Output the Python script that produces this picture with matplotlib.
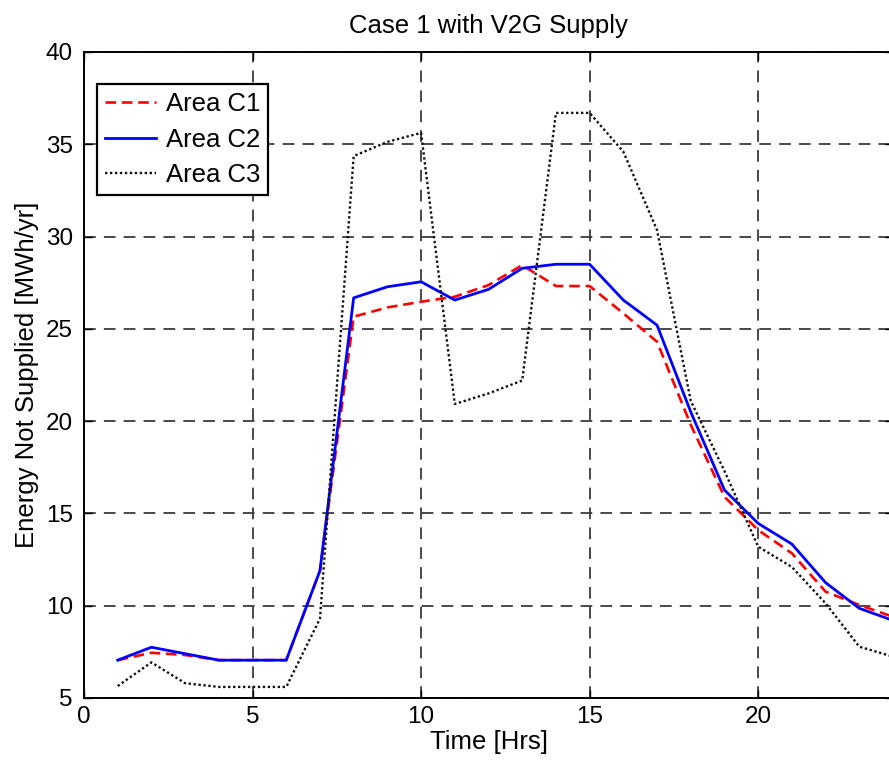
import matplotlib
matplotlib.use("Agg")
import matplotlib.pyplot as plt

plt.rcParams['font.family'] = ['Liberation Sans', 'DejaVu Sans']

hours = list(range(1, 25))
area_c1 = [7.05, 7.45, 7.33, 7.05, 7.05, 7.05, 11.9, 25.66, 26.16, 26.47, 26.74, 27.37,
           28.45, 27.32, 27.32, 25.84, 24.3, 19.8, 15.9, 14.1, 12.84, 10.76, 10.04, 9.4]
area_c2 = [7.05, 7.75, 7.4, 7.05, 7.05, 7.05, 11.9, 26.68, 27.28, 27.55, 26.56, 27.14,
           28.28, 28.5, 28.5, 26.56, 25.2, 20.5, 16.27, 14.46, 13.34, 11.25, 9.86, 9.2]
area_c3 = [5.65, 6.93, 5.8, 5.6, 5.6, 5.6, 9.3, 34.36, 35.13, 35.62, 20.93, 21.5,
           22.2, 36.7, 36.7, 34.6, 30.35, 21.1, 17.3, 13.2, 12.1, 10.13, 7.78, 7.24]

x_ticks = [0, 5, 10, 15, 20]
y_ticks = [5, 10, 15, 20, 25, 30, 35, 40]

fs_tick = 17.5
fs_text = 18.5

fig = plt.figure(figsize=(8.89, 7.62), dpi=100)
ax = fig.add_axes([84 / 889, 64 / 762, 809 / 889, 646 / 762])

ax.plot(hours, area_c1, color='#ff0000', linestyle=(0, (4, 2.2)), linewidth=1.9, label='Area C1')
ax.plot(hours, area_c2, color='#0000ff', linestyle='-', linewidth=2.0, label='Area C2')
ax.plot(hours, area_c3, color='#111111', linestyle=(0, (1, 1.1)), linewidth=1.7, label='Area C3')

ax.set_xlim(0, 24)
ax.set_ylim(5, 40)
ax.set_xticks(x_ticks)
ax.set_yticks(y_ticks)
ax.grid(True, color='#3a3a3a', linestyle=(0, (6.5, 4.5)), linewidth=1.3)
ax.tick_params(direction='in', top=True, right=True, length=6, width=1.0,
               labelsize=fs_tick)
ax.tick_params(axis='y', pad=8)
ax.tick_params(axis='x', pad=6)
for sp in ax.spines.values():
    sp.set_linewidth(1.4)

ax.set_title('Case 1 with V2G Supply', fontsize=fs_text, pad=14)
ax.set_xlabel('Time [Hrs]', fontsize=fs_text, labelpad=1)
ax.set_ylabel('Energy Not Supplied [MWh/yr]', fontsize=fs_text, labelpad=5)

leg = ax.legend(loc='upper left', bbox_to_anchor=(0.016, 0.95), fontsize=fs_text, fancybox=False,
                framealpha=1, edgecolor='black', handlelength=2.0, borderpad=0.3,
                labelspacing=0.45, handletextpad=0.4, borderaxespad=0.0)
leg.get_frame().set_linewidth(1.6)

fig.savefig('out.png', dpi=100)
